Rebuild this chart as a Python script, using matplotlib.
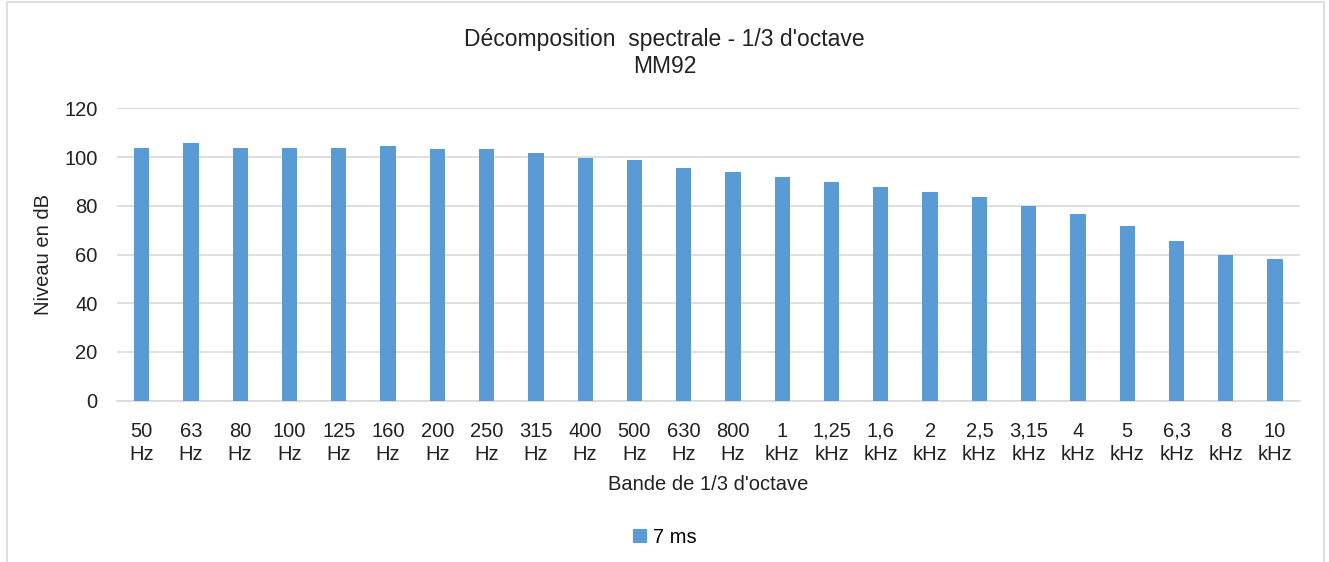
import matplotlib
matplotlib.use("Agg")
import matplotlib.pyplot as plt
from matplotlib.patches import Rectangle

plt.rcParams['font.family'] = ['Liberation Sans', 'DejaVu Sans']

bands = ["50\nHz", "63\nHz", "80\nHz", "100\nHz", "125\nHz", "160\nHz", "200\nHz",
         "250\nHz", "315\nHz", "400\nHz", "500\nHz", "630\nHz", "800\nHz", "1\nkHz",
         "1,25\nkHz", "1,6\nkHz", "2\nkHz", "2,5\nkHz", "3,15\nkHz", "4\nkHz",
         "5\nkHz", "6,3\nkHz", "8\nkHz", "10\nkHz"]
levels_7ms = [103.8, 105.7, 103.8, 103.8, 103.8, 104.5, 103.2, 103.2, 101.6, 99.6,
              98.8, 95.4, 94.0, 91.8, 89.7, 87.6, 85.5, 83.5, 80.0, 76.5, 71.6,
              65.4, 59.8, 58.3]
y_ticks = [0, 20, 40, 60, 80, 100, 120]

bar_color = "#5B9BD5"
grid_color = "#D9D9D9"
label_color = "#222222"

fig = plt.figure(figsize=(13.29, 5.62), dpi=100)
fig.patches.append(Rectangle((0.0055, -0.01), 0.9905, 1.006, transform=fig.transFigure,
                             fill=False, edgecolor=grid_color, linewidth=1.2))

ax = fig.add_axes([0.088, 0.287, 0.890, 0.520])
x = list(range(len(bands)))
ax.bar(x, levels_7ms, width=0.31, color=bar_color, label="7 ms", zorder=3)

ax.set_xlim(-0.5, len(bands) - 0.5)
ax.set_ylim(0, 120)
ax.set_yticks(y_ticks)
ax.set_xticks(x)
ax.set_xticklabels(bands, linespacing=1.3)
ax.tick_params(axis='both', length=0, labelsize=14.5, labelcolor=label_color)
ax.tick_params(axis='y', pad=14)
ax.tick_params(axis='x', pad=15)
ax.grid(axis='y', color=grid_color, linewidth=1.2, zorder=0)
for s in ["top", "right", "left"]:
    ax.spines[s].set_visible(False)
ax.spines["bottom"].set_color(grid_color)
ax.spines["bottom"].set_linewidth(1.2)

ax.set_ylabel("Niveau en dB", fontsize=14.5, color=label_color, labelpad=8)
ax.set_xlabel("Bande de 1/3 d'octave", fontsize=14.5, color=label_color, labelpad=8)

fig.text(0.5, 0.906, "Décomposition  spectrale - 1/3 d'octave\nMM92", ha="center",
         va="center", fontsize=16.5, color=label_color, linespacing=1.25)

fig.legend(loc="center", bbox_to_anchor=(0.5, 0.043), frameon=False, fontsize=14.5,
           handlelength=0.7, handleheight=0.7, handletextpad=0.3)

fig.savefig("out.png", dpi=100, facecolor="white")
